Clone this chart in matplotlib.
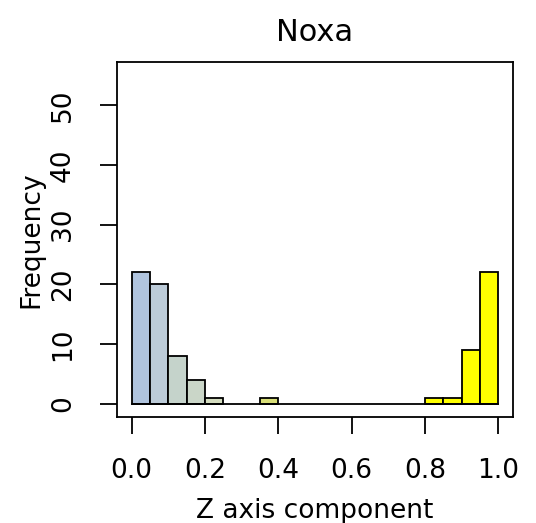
import numpy as np
import matplotlib.pyplot as plt

# histogram data (bin width 0.05)
bin_edges = np.round(np.arange(0, 1.0001, 0.05), 2)
counts = [22, 20, 8, 4, 1, 0, 0, 1, 0, 0, 0, 0, 0, 0, 0, 0, 1, 1, 9, 22]
bar_colors = ['#b0c4de', '#bccbd8', '#c5d3cb', '#cad6c8', '#d4dcbf',
              '#d8dca8', '#d9dd90', '#d9df78', '#e0e060', '#e4e450',
              '#e8e840', '#ecec30', '#f0f020', '#f4f410', '#f8f808',
              '#fcfc04', '#ffff00', '#ffff00', '#ffff00', '#ffff00']
x_ticks = [0.0, 0.2, 0.4, 0.6, 0.8, 1.0]
y_ticks = [0, 10, 20, 30, 40, 50]

fig = plt.figure(figsize=(5.36, 5.23), dpi=100)
ax = fig.add_axes([0.218, 0.203, 0.739, 0.678])

lefts = bin_edges[:-1]
widths = np.diff(bin_edges)
for l, w, c, col in zip(lefts, widths, counts, bar_colors):
    if c > 0:
        ax.bar(l, c, width=w, align='edge', color=col, edgecolor='black', linewidth=1.3)
# baseline like R's hist
ax.plot([0, 1], [0, 0], color='black', lw=1.3)

ax.set_xlim(-0.04, 1.04)
ax.set_ylim(-2.2, 57.2)
ax.set_xticks(x_ticks)
ax.set_xticklabels([f'{v:.1f}' for v in x_ticks])
ax.set_yticks(y_ticks)
ax.set_yticklabels([str(v) for v in y_ticks], rotation=90, va='center')
ax.tick_params(direction='out', length=12.5, width=1.3, labelsize=19, pad=17)
for s in ax.spines.values():
    s.set_linewidth(1.3)

ax.set_title('Noxa', fontsize=22, pad=15)
ax.set_xlabel('Z axis component', fontsize=19, labelpad=10)
ax.set_ylabel('Frequency', fontsize=19, labelpad=4)

fig.savefig('out.png', dpi=100)
